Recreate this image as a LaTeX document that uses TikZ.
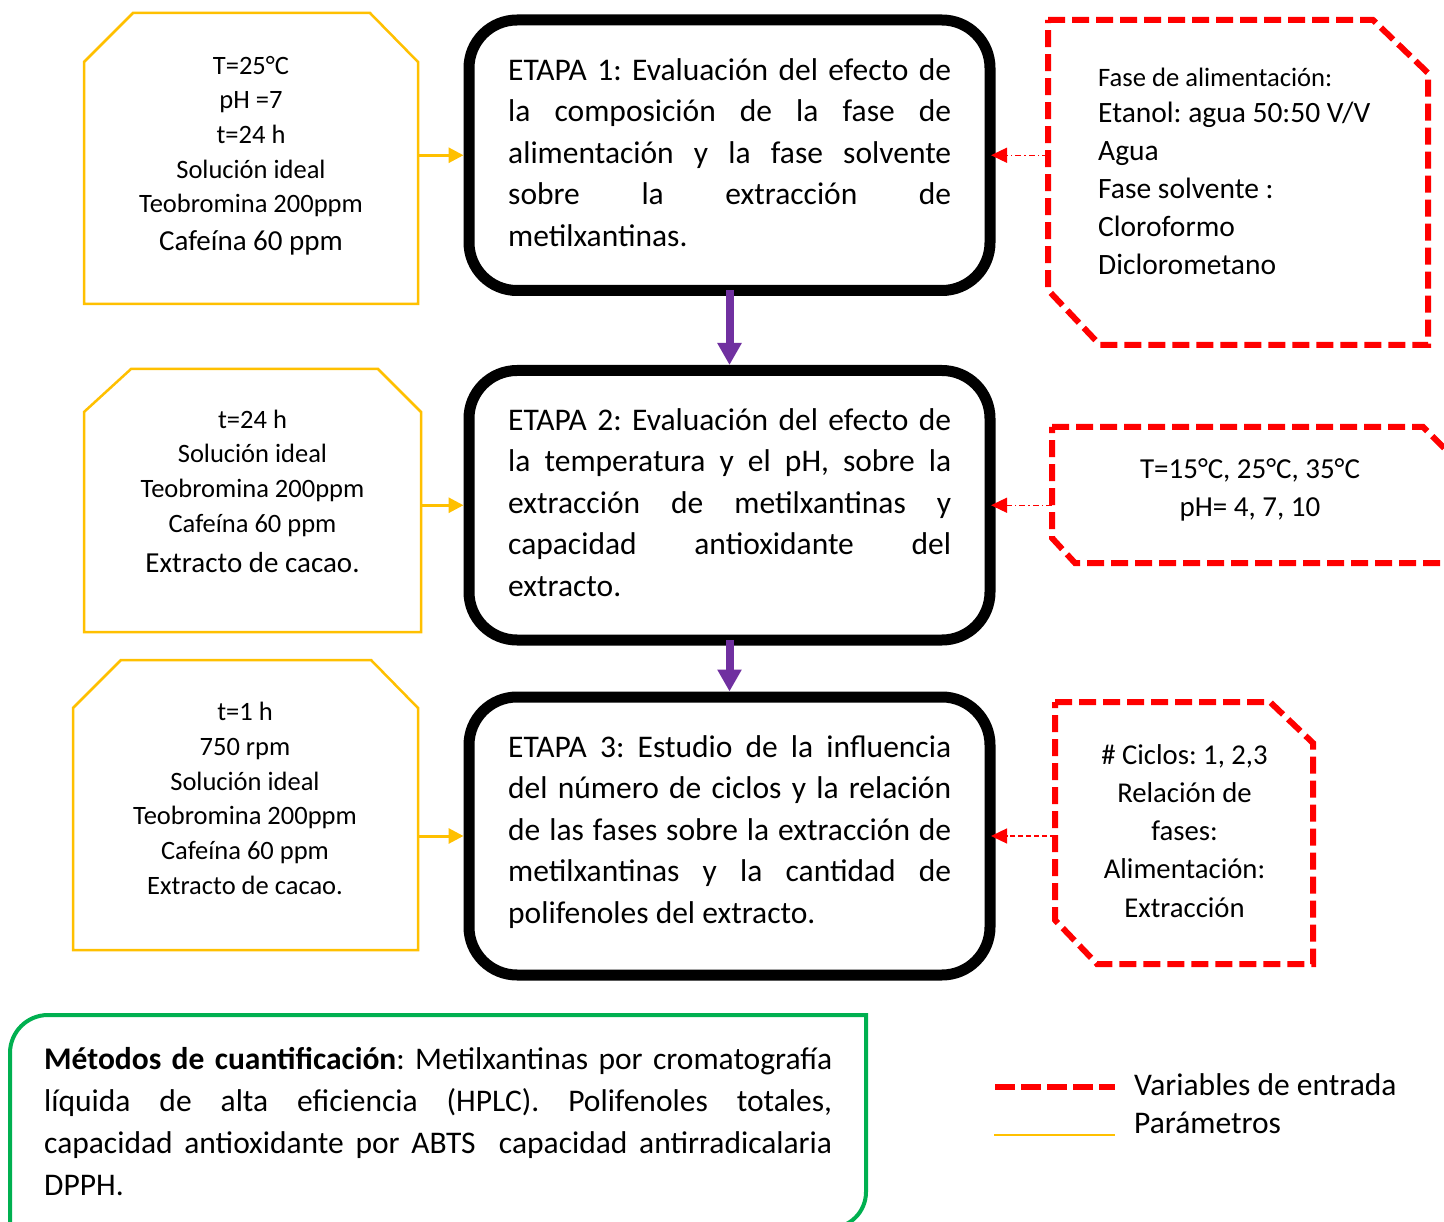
\documentclass[tikz,border=0pt]{standalone}
\usepackage{fontspec}
\setmainfont{Carlito}
\usetikzlibrary{arrows.meta,calc}
\definecolor{ylw}{HTML}{FFC000}
\definecolor{rd}{HTML}{FF0000}
\definecolor{prp}{HTML}{7030A0}
\definecolor{grn}{HTML}{00B050}
\frenchspacing
\begin{document}
\frenchspacing
\begin{tikzpicture}[x=1pt,y=-1pt,
  etapa/.style={draw=black,line width=11pt,rounded corners=48pt,inner sep=0pt,outer sep=5.5pt},
  frame/.style={inner sep=0pt,outer sep=0pt},
  ybox/.style={draw=ylw,line width=2.5pt,line join=miter},
  rbox/.style={draw=rd,line width=6pt,dash pattern=on 17pt off 7pt},
  etext/.style={anchor=north west,inner sep=0pt,text width=443pt,align=justify,font=\fontsize{31.5pt}{41.5pt}\selectfont\frenchspacing},
  ytext/.style={anchor=north,inner sep=0pt,align=center,font=\fontsize{26.5pt}{34.7pt}\selectfont},
  yarrow/.style={draw=ylw,line width=3pt,-{Triangle[width=15pt,length=15pt]}},
  rarrow/.style={draw=rd,line width=1.3pt,dash pattern=on 6pt off 3pt on 1.5pt off 3pt,-{Triangle[width=15pt,length=16pt]}},
  rarrowb/.style={draw=rd,line width=1.3pt,dash pattern=on 5pt off 3pt,-{Triangle[width=15pt,length=16pt]}},
  parrow/.style={draw=prp,line width=8pt,-{Triangle[width=23pt,length=22pt]}},
]
\useasboundingbox (0,0) rectangle (1444,1222);
\fill[white] (0,0) rectangle (1444,1222);

% ---------- stage boxes ----------
\node[etapa,minimum width=521pt,minimum height=270.5pt] (e1) at (729.5,155.25) {};
\node[etapa,minimum width=521pt,minimum height=269.5pt] (e2) at (729.5,505.25) {};
\node[etapa,minimum width=521pt,minimum height=278pt] (e3) at (729.5,836) {};

\node[etext] (e1t) at (508,48.5) {\rule{0pt}{1em}ETAPA 1: Evaluación del efecto de\linebreak la composición de la fase de\linebreak alimentación y la fase solvente\linebreak sobre la extracción de\linebreak metilxantinas.};
\node[etext] (e2t) at (508,398.5) {\rule{0pt}{1em}ETAPA 2: Evaluación del efecto de\linebreak la temperatura y el pH, sobre la\linebreak extracción de metilxantinas y\linebreak capacidad antioxidante del\linebreak extracto.};
\node[etext] (e3t) at (508,725.5) {\rule{0pt}{1em}ETAPA 3: Estudio de la influencia\linebreak del número de ciclos y la relación\linebreak de las fases sobre la extracción de\linebreak metilxantinas y la cantidad de\linebreak polifenoles del extracto.};

% ---------- yellow parameter boxes ----------
\node[frame,minimum width=334pt,minimum height=291pt] (y1) at (251,158.5) {};
\node[frame,minimum width=337pt,minimum height=263pt] (y2) at (252.5,500.5) {};
\node[frame,minimum width=345pt,minimum height=290pt] (y3) at (245.5,805) {};

\draw[ybox] (y1.south west) -- ($(y1.north west)+(0,49)$) -- ($(y1.north west)+(49,0)$) -- ($(y1.north east)+(-48,0)$) -- ($(y1.north east)+(0,49)$) -- (y1.south east) -- cycle;
\draw[ybox] (y2.south west) -- ($(y2.north west)+(0,43)$) -- ($(y2.north west)+(47,0)$) -- ($(y2.north east)+(-43,0)$) -- ($(y2.north east)+(0,43)$) -- (y2.south east) -- cycle;
\draw[ybox] (y3.south west) -- ($(y3.north west)+(0,48)$) -- ($(y3.north west)+(48,0)$) -- ($(y3.north east)+(-47,0)$) -- ($(y3.north east)+(0,48)$) -- (y3.south east) -- cycle;

\node[ytext] (y1t) at (251,47.5) {\rule{0pt}{1em}T=25°C\\pH =7\\t=24 h\\Solución ideal\\Teobromina 200ppm\\[2.8pt]{\fontsize{29pt}{34.7pt}\selectfont Cafeína 60 ppm}};
\node[ytext] (y2t) at (252.5,401.5) {\rule{0pt}{1em}t=24 h\\Solución ideal\\Teobromina 200ppm\\Cafeína 60 ppm\\[5.8pt]{\fontsize{29pt}{34.7pt}\selectfont Extracto de cacao.}};
\node[ytext] (y3t) at (245,694) {\rule{0pt}{1em}t=1 h\\750 rpm\\Solución ideal\\Teobromina 200ppm\\Cafeína 60 ppm\\Extracto de cacao.};

% ---------- red variable boxes ----------
\node[frame,minimum width=380pt,minimum height=325pt] (r1) at (1238,182.5) {};
\node[frame,minimum width=398pt,minimum height=136pt] (r2) at (1251,495) {};
\node[frame,minimum width=258pt,minimum height=262pt] (r3) at (1184,833) {};

\draw[rbox] (r1.north west) -- ($(r1.north east)+(-55,0)$) -- ($(r1.north east)+(0,53)$) -- (r1.south east) -- ($(r1.south west)+(52,0)$) -- ($(r1.south west)+(0,-55)$) -- cycle;
\draw[rbox] (r2.north west) -- ($(r2.north east)+(-27,0)$) -- ($(r2.north east)+(0,27)$) -- (r2.south east) -- ($(r2.south west)+(23,0)$) -- ($(r2.south west)+(0,-25)$) -- cycle;
\draw[rbox] (r3.north west) -- ($(r3.north east)+(-43,0)$) -- ($(r3.north east)+(0,41)$) -- (r3.south east) -- ($(r3.south west)+(42,0)$) -- ($(r3.south west)+(0,-44)$) -- cycle;

\node[anchor=north west,inner sep=0pt,align=left,font=\fontsize{29.5pt}{38pt}\selectfont] (r1t) at (1098,56.5) {\rule{0pt}{29.5pt}{\fontsize{26.6pt}{38pt}\selectfont Fase de alimentación:}\\[-1.5pt]Etanol: agua 50:50 V/V\\Agua\\Fase solvente :\\Cloroformo\\Diclorometano};
\node[anchor=north,inner sep=0pt,align=center,font=\fontsize{29pt}{38.5pt}\selectfont] (r2t) at (1250,449) {\rule{0pt}{1em}T=15°C, 25°C, 35°C\\pH= 4, 7, 10};
\node[anchor=north,inner sep=0pt,align=center,font=\fontsize{28.7pt}{38.2pt}\selectfont] (r3t) at (1184.5,735.3) {\rule{0pt}{1em}\# Ciclos: 1, 2,3\\Relación de\\fases:\\Alimentación:\\Extracción};

% ---------- connectors ----------
\draw[parrow] ([yshift=5.5pt]e1.south) -- (e2.north);
\draw[parrow] ([yshift=5.5pt]e2.south) -- (e3.north);

\draw[yarrow] (y1.east |- e1.west) -- (e1.west);
\draw[yarrow] (y2.east |- e2.west) -- (e2.west);
\draw[yarrow] (y3.east |- e3.west) -- (e3.west);

\draw[rarrow] (r1.west |- e1.east) -- ([xshift=-4.5pt]e1.east);
\draw[rarrow] (r2.west |- e2.east) -- ([xshift=-4.5pt]e2.east);
\draw[rarrowb] (r3.west |- e3.east) -- ([xshift=-4.5pt]e3.east);

% ---------- methods box ----------
\draw[draw=grn,line width=4pt] (10,1260) -- (10,1053) arc[start angle=180,end angle=90,radius=38pt] -- (866,1015) -- (866,1192) arc[start angle=0,end angle=-90,radius=36pt] -- (780,1228);
\node[anchor=north west,inner sep=0pt,text width=788pt,align=justify,font=\fontsize{31.5pt}{42pt}\selectfont\frenchspacing] (gt) at (44,1037.5) {\rule{0pt}{1em}\textbf{Métodos de cuantificación}: Metilxantinas por cromatografía\linebreak líquida de alta eficiencia (HPLC). Polifenoles totales,\linebreak capacidad antioxidante por ABTS\ \ capacidad antirradicalaria\linebreak DPPH.};

% ---------- legend ----------
\coordinate (la) at (995,1087);
\coordinate (lb) at (1115,1087);
\coordinate (lc) at (994,1135);
\coordinate (ld) at (1115,1135);
\draw[draw=rd,line width=6.5pt,dash pattern=on 20pt off 6pt] (la) -- (lb);
\draw[draw=ylw,line width=2.5pt] (lc) -- (ld);
\node[anchor=base west,inner sep=0pt,font=\fontsize{31.5pt}{38pt}\selectfont] (lg1) at (1134,1095) {Variables de entrada};
\node[anchor=base west,inner sep=0pt,font=\fontsize{31.5pt}{38pt}\selectfont] (lg2) at (1134,1133) {Parámetros};
\end{tikzpicture}
\end{document}
